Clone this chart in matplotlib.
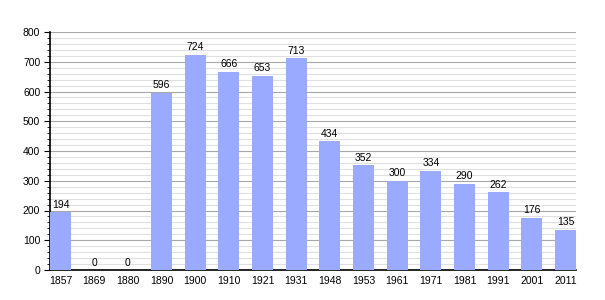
import matplotlib.pyplot as plt
from matplotlib.ticker import MultipleLocator

plt.rcParams['font.family'] = ['Liberation Sans', 'DejaVu Sans']

# data
years = ['1857', '1869', '1880', '1890', '1900', '1910', '1921', '1931',
         '1948', '1953', '1961', '1971', '1981', '1991', '2001', '2011']
population = [194, 0, 0, 596, 724, 666, 653, 713,
              434, 352, 300, 334, 290, 262, 176, 135]

bar_w = 0.624
xs = range(len(years))

fig = plt.figure(figsize=(6.05, 3.0), dpi=100)
ax = fig.add_axes([50/605, 0.1, 526/605, 238/300])

bars = ax.bar(xs, population, width=bar_w, color='#99aaff', zorder=3)
for x, v in zip(xs, population):
    ax.text(x, v + 8, str(v), ha='center', va='bottom', fontsize=7.5, zorder=4)

ax.set_xlim(-bar_w/2, len(years) - 1 + bar_w/2)
ax.set_ylim(0, 800)
ax.set_xticks(list(xs))
ax.set_xticklabels(years)
ax.yaxis.set_major_locator(MultipleLocator(100))
ax.yaxis.set_minor_locator(MultipleLocator(20))

ax.grid(axis='y', which='major', color='#a8a8a8', lw=0.8, zorder=0)
ax.grid(axis='y', which='minor', color='#e0e0e0', lw=0.8, zorder=0)

for s in ['top', 'right']:
    ax.spines[s].set_visible(False)
ax.spines['left'].set_linewidth(1.2)
ax.spines['bottom'].set_linewidth(1.2)

ax.tick_params(axis='x', length=0, pad=4, labelsize=7.5)
ax.tick_params(axis='y', which='major', length=4, width=0.8, labelsize=7.5, pad=3)
ax.tick_params(axis='y', which='minor', length=2, width=0.6)

fig.savefig('out.png', dpi=100)
